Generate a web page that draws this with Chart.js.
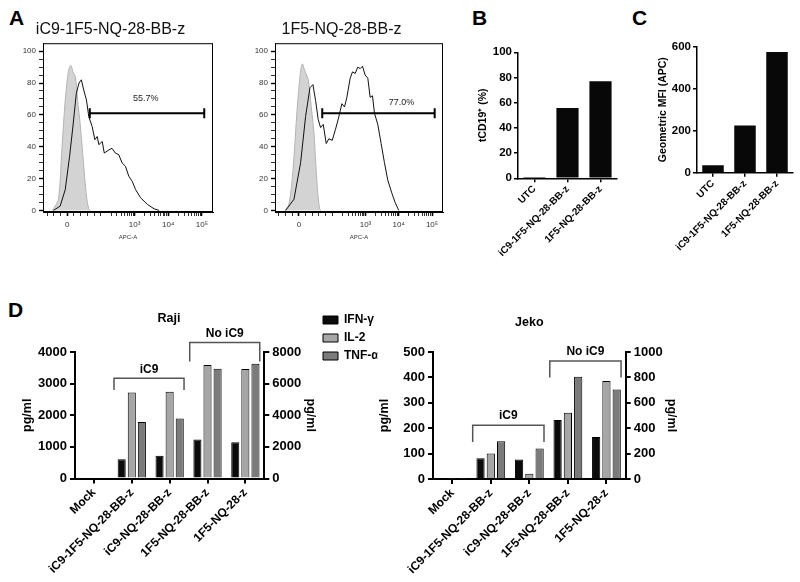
<!DOCTYPE html>
<html lang="en">
<head>
<meta charset="UTF-8">
<title>CAR expression and cytokine release</title>
<script src="https://cdn.jsdelivr.net/npm/chart.js"></script>
<style>
  body { margin: 0; background: #fff; font-family: "Liberation Sans", Arial, sans-serif; }
  #fig { position: relative; width: 800px; height: 582px; overflow: hidden; }
  #fig canvas { position: absolute; }
  .tag { position: absolute; font-weight: bold; font-size: 21px; line-height: 1; }
</style>
</head>
<body>
<div id="fig">
  <div class="tag" style="left:9px;top:7px">A</div>
  <div class="tag" style="left:472px;top:7px">B</div>
  <div class="tag" style="left:632px;top:7px">C</div>
  <div class="tag" style="left:8px;top:299px">D</div>
  <canvas id="histA" width="235" height="230" style="left:8px;top:14px"></canvas>
  <canvas id="histB" width="235" height="230" style="left:240px;top:14px"></canvas>
  <canvas id="pctChart" width="150" height="240" style="left:470px;top:40px"></canvas>
  <canvas id="mfiChart" width="170" height="250" style="left:630px;top:30px"></canvas>
  <canvas id="rajiChart" width="348" height="282" style="left:-26px;top:300px"></canvas>
  <canvas id="jekoChart" width="366" height="274" style="left:317px;top:308px"></canvas>
</div>

<script>
    // ---- panel A: flow histograms (x in biexponential display units, 0 = 0, 2 = 10^3 ...)
    const apcMajor = [0, 2, 3, 4];
    const apcLabels = ['0', '10³', '10⁴', '10⁵'];

    const isoAx = [-0.45, -0.41, -0.26, -0.16, -0.06, 0.04, 0.11, 0.17, 0.24, 0.31, 0.39, 0.49, 0.57, 0.64, 0.69];
    const isoAy = [0, 1, 7, 38, 69, 88, 91, 87, 84, 69, 53, 28, 9, 1, 0];
    const carAx = [-0.41, -0.21, -0.06, 0.07, 0.17, 0.27, 0.35, 0.42, 0.49, 0.57, 0.64, 0.74, 0.82, 0.89, 0.94,
                   1.04, 1.1, 1.24, 1.33, 1.43, 1.53, 1.63, 1.73, 1.83, 1.93, 2.03, 2.18, 2.38, 2.58, 2.73];
    const carAy = [0, 2.7, 13, 34, 53, 73.5, 80, 82, 75.6, 69.4, 58.9, 52.7, 44.4, 46.4, 41.3,
                   43.3, 36, 38, 39, 36, 35, 29.8, 27.7, 21.4, 18.3, 13.1, 7.9, 3.8, 1, 0];

    const isoBx = [-0.42, -0.3, -0.18, -0.06, 0.04, 0.1, 0.17, 0.28, 0.37, 0.45, 0.55, 0.62, 0.66];
    const isoBy = [0, 4, 25, 62, 86, 92, 88, 82, 65, 48.5, 15, 1, 0];
    const carBx = [-0.4, -0.15, 0.05, 0.2, 0.33, 0.42, 0.5, 0.58, 0.65, 0.73, 0.82, 0.9, 1.0, 1.1, 1.19, 1.29, 1.37, 1.44,
                   1.54, 1.61, 1.69, 1.77, 1.84, 1.91, 1.99, 2.07, 2.14, 2.21, 2.27, 2.37, 2.47, 2.57, 2.67, 2.79, 2.89, 3.0];
    const carBy = [0, 7, 30, 59, 77, 79, 69, 57, 52, 54, 42, 45, 44, 51, 58, 67, 65, 71,
                   83, 87, 86, 90, 89, 90.5, 85, 83, 71, 72, 61, 54, 42, 30, 19, 11, 5, 0];

    const gateA = [0.67, 4.07];
    const gateB = [0.7, 4.08];
    const gateLevel = 61;

    // ---- panels B and C
    const sampleLabels = ['UTC', 'iC9-1F5-NQ-28-BB-z', '1F5-NQ-28-BB-z'];
    const pctPositive = [1, 55.7, 77.0];
    const geoMFI = [35, 225, 575];

    // ---- panel D
    const constructs = ['Mock', 'iC9-1F5-NQ-28-BB-z', 'iC9-NQ-28-BB-z', '1F5-NQ-28-BB-z', '1F5-NQ-28-z'];
    const rajiIFN = [0, 610, 720, 1230, 1150];     // left axis
    const rajiIL2 = [0, 5440, 5480, 7180, 6920];   // right axis
    const rajiTNF = [0, 3580, 3800, 6940, 7260];   // right axis
    const jekoIFN = [1, 82, 77, 232, 165];
    const jekoIL2 = [4, 200, 42, 522, 772];
    const jekoTNF = [4, 298, 240, 806, 705];

    const groups = [['iC9', 1, 2], ['No iC9', 3, 4]];
    const rajiBracketTop = [3170, 4300];
    const rajiBracketFoot = [2800, 3700];
    const jekoBracketTop = [212, 465];
    const jekoBracketFoot = [146, 400];

    Chart.defaults.font.family = '"Liberation Sans", Arial, sans-serif';
    Chart.defaults.color = '#000';
    Chart.defaults.animation = false;
    Chart.defaults.events = [];
    Chart.defaults.plugins.legend.display = false;
    Chart.defaults.plugins.tooltip.enabled = false;

    const pts = (xs, ys) => xs.map((x, i) => ({ x: x, y: ys[i] }));

    // box around the histogram plot + the gate percentage
    const frame = {
        id: 'frame',
        afterDatasetsDraw(chart, args, o) {
            const a = chart.chartArea, c = chart.ctx;
            c.save();
            c.strokeStyle = '#000';
            c.lineWidth = 1;
            c.strokeRect(a.left + 0.5, a.top + 0.5, a.right - a.left - 1, a.bottom - a.top - 1);
            c.font = '9px "Liberation Sans", Arial';
            c.fillStyle = '#222';
            c.textAlign = 'center';
            c.textBaseline = 'middle';
            c.fillText(o.text, chart.scales.x.getPixelForValue(o.x), chart.scales.y.getPixelForValue(o.y));
            c.restore();
        }
    };

    // brackets over the groups in D
    const brackets = {
        id: 'brackets',
        afterDraw(chart, args, o) {
            const xs = chart.scales.x, ys = chart.scales.y, c = chart.ctx;
            c.save();
            c.strokeStyle = '#555';
            c.lineWidth = 1.5;
            c.font = 'bold 12px "Liberation Sans", Arial';
            c.fillStyle = '#000';
            c.textAlign = 'center';
            c.textBaseline = 'bottom';
            groups.forEach((g, i) => {
                const x0 = xs.getPixelForValue(g[1] - 0.47);
                const x1 = xs.getPixelForValue(g[2] + 0.38);
                const yt = ys.getPixelForValue(o.top[i]);
                const yf = ys.getPixelForValue(o.foot[i]);
                c.beginPath();
                c.moveTo(x0, yf); c.lineTo(x0, yt); c.lineTo(x1, yt); c.lineTo(x1, yf);
                c.stroke();
                c.fillText(g[0], (x0 + x1) / 2, yt - 3);
            });
            c.restore();
        }
    };

    function histogram(id, title, iso, car, gate, label, padRight) {
        const minors = [-0.6, -0.4, -0.2, 0.2, 0.4, 0.6, 0.8, 1];
        [1, 2, 3].forEach(d => [2, 3, 4, 5, 6, 7, 8, 9].forEach(k => minors.push(d + Math.log10(k))));
        new Chart(document.getElementById(id), {
            type: 'line',
            data: {
                datasets: [
                    { data: gate.map(x => ({ x: x, y: gateLevel })), borderColor: '#000', borderWidth: 2,
                      pointStyle: 'line', rotation: 90, pointRadius: 5, pointBorderWidth: 2, order: 1 },
                    { data: car, borderColor: '#111', borderWidth: 1, pointRadius: 0, tension: 0, order: 2 },
                    { data: iso, borderColor: '#b4b4b4', backgroundColor: '#d3d3d3', fill: 'origin',
                      borderWidth: 1, pointRadius: 0, tension: 0.3, order: 3 }
                ]
            },
            options: {
                responsive: false,
                layout: { padding: { right: padRight } },
                plugins: {
                    title: { display: true, text: title, font: { size: 16, weight: 'normal' }, color: '#111',
                             padding: { top: 6, bottom: 4 } },
                    frame: label
                },
                scales: {
                    x: {
                        type: 'linear', min: -0.72, max: 4.33,
                        afterBuildTicks: s => { s.ticks = apcMajor.concat(minors).map(v => ({ value: v })); },
                        afterFit: s => { s.height = 32; },
                        ticks: { autoSkip: false, maxRotation: 0, padding: 4, color: '#333', font: { size: 8 },
                                 callback: v => { const i = apcMajor.indexOf(v); return i < 0 ? '' : apcLabels[i]; } },
                        grid: { drawOnChartArea: false, tickLength: 4, color: '#000',
                                tickWidth: ctx => apcMajor.includes(ctx.tick.value) ? 1.6 : 0.8 },
                        border: { color: '#000' },
                        title: { display: true, text: 'APC-A', font: { size: 6 }, padding: { top: 0, bottom: 3 }, color: '#333' }
                    },
                    y: {
                        min: -1, max: 105,
                        afterBuildTicks: s => { const t = []; for (let v = 0; v <= 100; v += 5) t.push({ value: v }); s.ticks = t; },
                        afterFit: s => { s.width = 35; },
                        ticks: { autoSkip: false, padding: 3, color: '#333', font: { size: 8 },
                                 callback: v => v % 20 === 0 ? v : '' },
                        grid: { drawOnChartArea: false, tickLength: 4, color: '#000',
                                tickWidth: ctx => ctx.tick.value % 20 === 0 ? 1.4 : 0.8 },
                        border: { color: '#000' }
                    }
                }
            },
            plugins: [frame]
        });
    }

    histogram('histA', 'iC9-1F5-NQ-28-BB-z', pts(isoAx, isoAy), pts(carAx, carAy), gateA,
              { text: '55.7%', x: 2.33, y: 70 }, 30);
    histogram('histB', '1F5-NQ-28-BB-z', pts(isoBx, isoBy), pts(carBx, carBy), gateB,
              { text: '77.0%', x: 3.08, y: 68 }, 32);

    function smallBar(id, values, yMax, yStep, yTitle, pad, yWidth, xHeight) {
        new Chart(document.getElementById(id), {
            type: 'bar',
            data: { labels: sampleLabels, datasets: [{ data: values, backgroundColor: '#080808',
                    categoryPercentage: 0.8, barPercentage: 0.84 }] },
            options: {
                responsive: false,
                layout: { padding: pad },
                scales: {
                    x: {
                        afterFit: s => { s.height = xHeight; },
                        ticks: { minRotation: 45, maxRotation: 45, autoSkip: false, padding: 1,
                                 font: { size: 10, weight: 'bold' } },
                        grid: { drawOnChartArea: false, offset: false, tickLength: 4, color: '#000', lineWidth: 1.5 },
                        border: { color: '#000', width: 1.5 }
                    },
                    y: {
                        min: 0, max: yMax,
                        afterFit: s => { s.width = yWidth; },
                        ticks: { stepSize: yStep, padding: 2, font: { size: 11.5, weight: 'bold' }, callback: v => v },
                        grid: { drawOnChartArea: false, tickLength: 4, color: '#000', lineWidth: 1.5 },
                        border: { color: '#000', width: 1.5 },
                        title: { display: true, text: yTitle, font: { size: 10.5, weight: 'bold' }, padding: 0 }
                    }
                }
            }
        });
    }

    smallBar('pctChart', pctPositive, 100, 20, 'tCD19⁺ (%)', { left: 7, top: 12.3, right: 3 }, 41, 101.7);
    smallBar('mfiChart', geoMFI, 600, 200, 'Geometric MFI (APC)', { left: 26.4, top: 16.7, right: 7 }, 40.6, 107.3);

    function cytokines(id, title, ifn, il2, tnf, leftMax, leftStep, o) {
        const barStyle = { borderColor: '#000', borderWidth: 1, categoryPercentage: 0.8, barPercentage: 0.8 };
        const axis = (max, step, pos, width) => ({
            position: pos, min: 0, max: max,
            afterFit: s => { s.width = typeof width === 'function' ? width(s) : width; },
            ticks: { stepSize: step, padding: 3, font: { size: 13, weight: 'bold' }, callback: v => v },
            grid: { drawOnChartArea: false, tickLength: 5, color: '#000', lineWidth: 2 },
            border: { color: '#000', width: 2 },
            title: { display: true, text: 'pg/ml', font: { size: 12.5, weight: 'bold' }, padding: 0 }
        });
        new Chart(document.getElementById(id), {
            type: 'bar',
            data: {
                labels: constructs,
                datasets: [
                    Object.assign({ label: 'IFN-γ', data: ifn, backgroundColor: '#0b0b0b', yAxisID: 'y' }, barStyle),
                    Object.assign({ label: 'IL-2', data: il2, backgroundColor: '#a6a6a6', yAxisID: 'y1' }, barStyle),
                    Object.assign({ label: 'TNF-α', data: tnf, backgroundColor: '#7b7b7b', yAxisID: 'y1' }, barStyle)
                ]
            },
            options: {
                responsive: false,
                layout: { padding: o.pad },
                plugins: {
                    title: { display: true, text: title, fullSize: o.titleFull, font: { size: 12.5, weight: 'bold' },
                             padding: o.titlePad },
                    legend: o.legend,
                    brackets: { top: o.top, foot: o.foot }
                },
                scales: {
                    x: {
                        afterFit: s => { s.height = o.xHeight; },
                        ticks: { minRotation: 45, maxRotation: 45, autoSkip: false, padding: 2,
                                 font: { size: 12, weight: 'bold' } },
                        grid: { drawOnChartArea: false, offset: false, tickLength: 5, color: '#000', lineWidth: 2 },
                        border: { color: '#000', width: 2 }
                    },
                    y: axis(leftMax, leftStep, 'left', o.leftWidth),
                    y1: axis(leftMax * 2, leftStep * 2, 'right', o.rightWidth)
                }
            },
            plugins: [brackets]
        });
    }

    cytokines('rajiChart', 'Raji', rajiIFN, rajiIL2, rajiTNF, 4000, 1000, {
        pad: { left: 45.8, right: 3.8 }, titleFull: true, titlePad: { top: 11, bottom: 26 },
        legend: { display: false }, top: rajiBracketTop, foot: rajiBracketFoot,
        xHeight: 103.5, leftWidth: 55.2, rightWidth: 53.9
    });

    cytokines('jekoChart', 'Jeko', jekoIFN, jekoIL2, jekoTNF, 500, 100, {
        pad: { right: 4.4 }, titleFull: false, titlePad: { top: 6.8, bottom: 22.2 },
        legend: { display: true, position: 'left', align: 'start',
                  labels: { boxWidth: 15, boxHeight: 8, padding: 6, font: { size: 12, weight: 'bold' } } },
        top: jekoBracketTop, foot: jekoBracketFoot,
        xHeight: 103, leftWidth: s => 116 - s.chart.legend.width, rightWidth: 52.9
    });
</script>
</body>
</html>
